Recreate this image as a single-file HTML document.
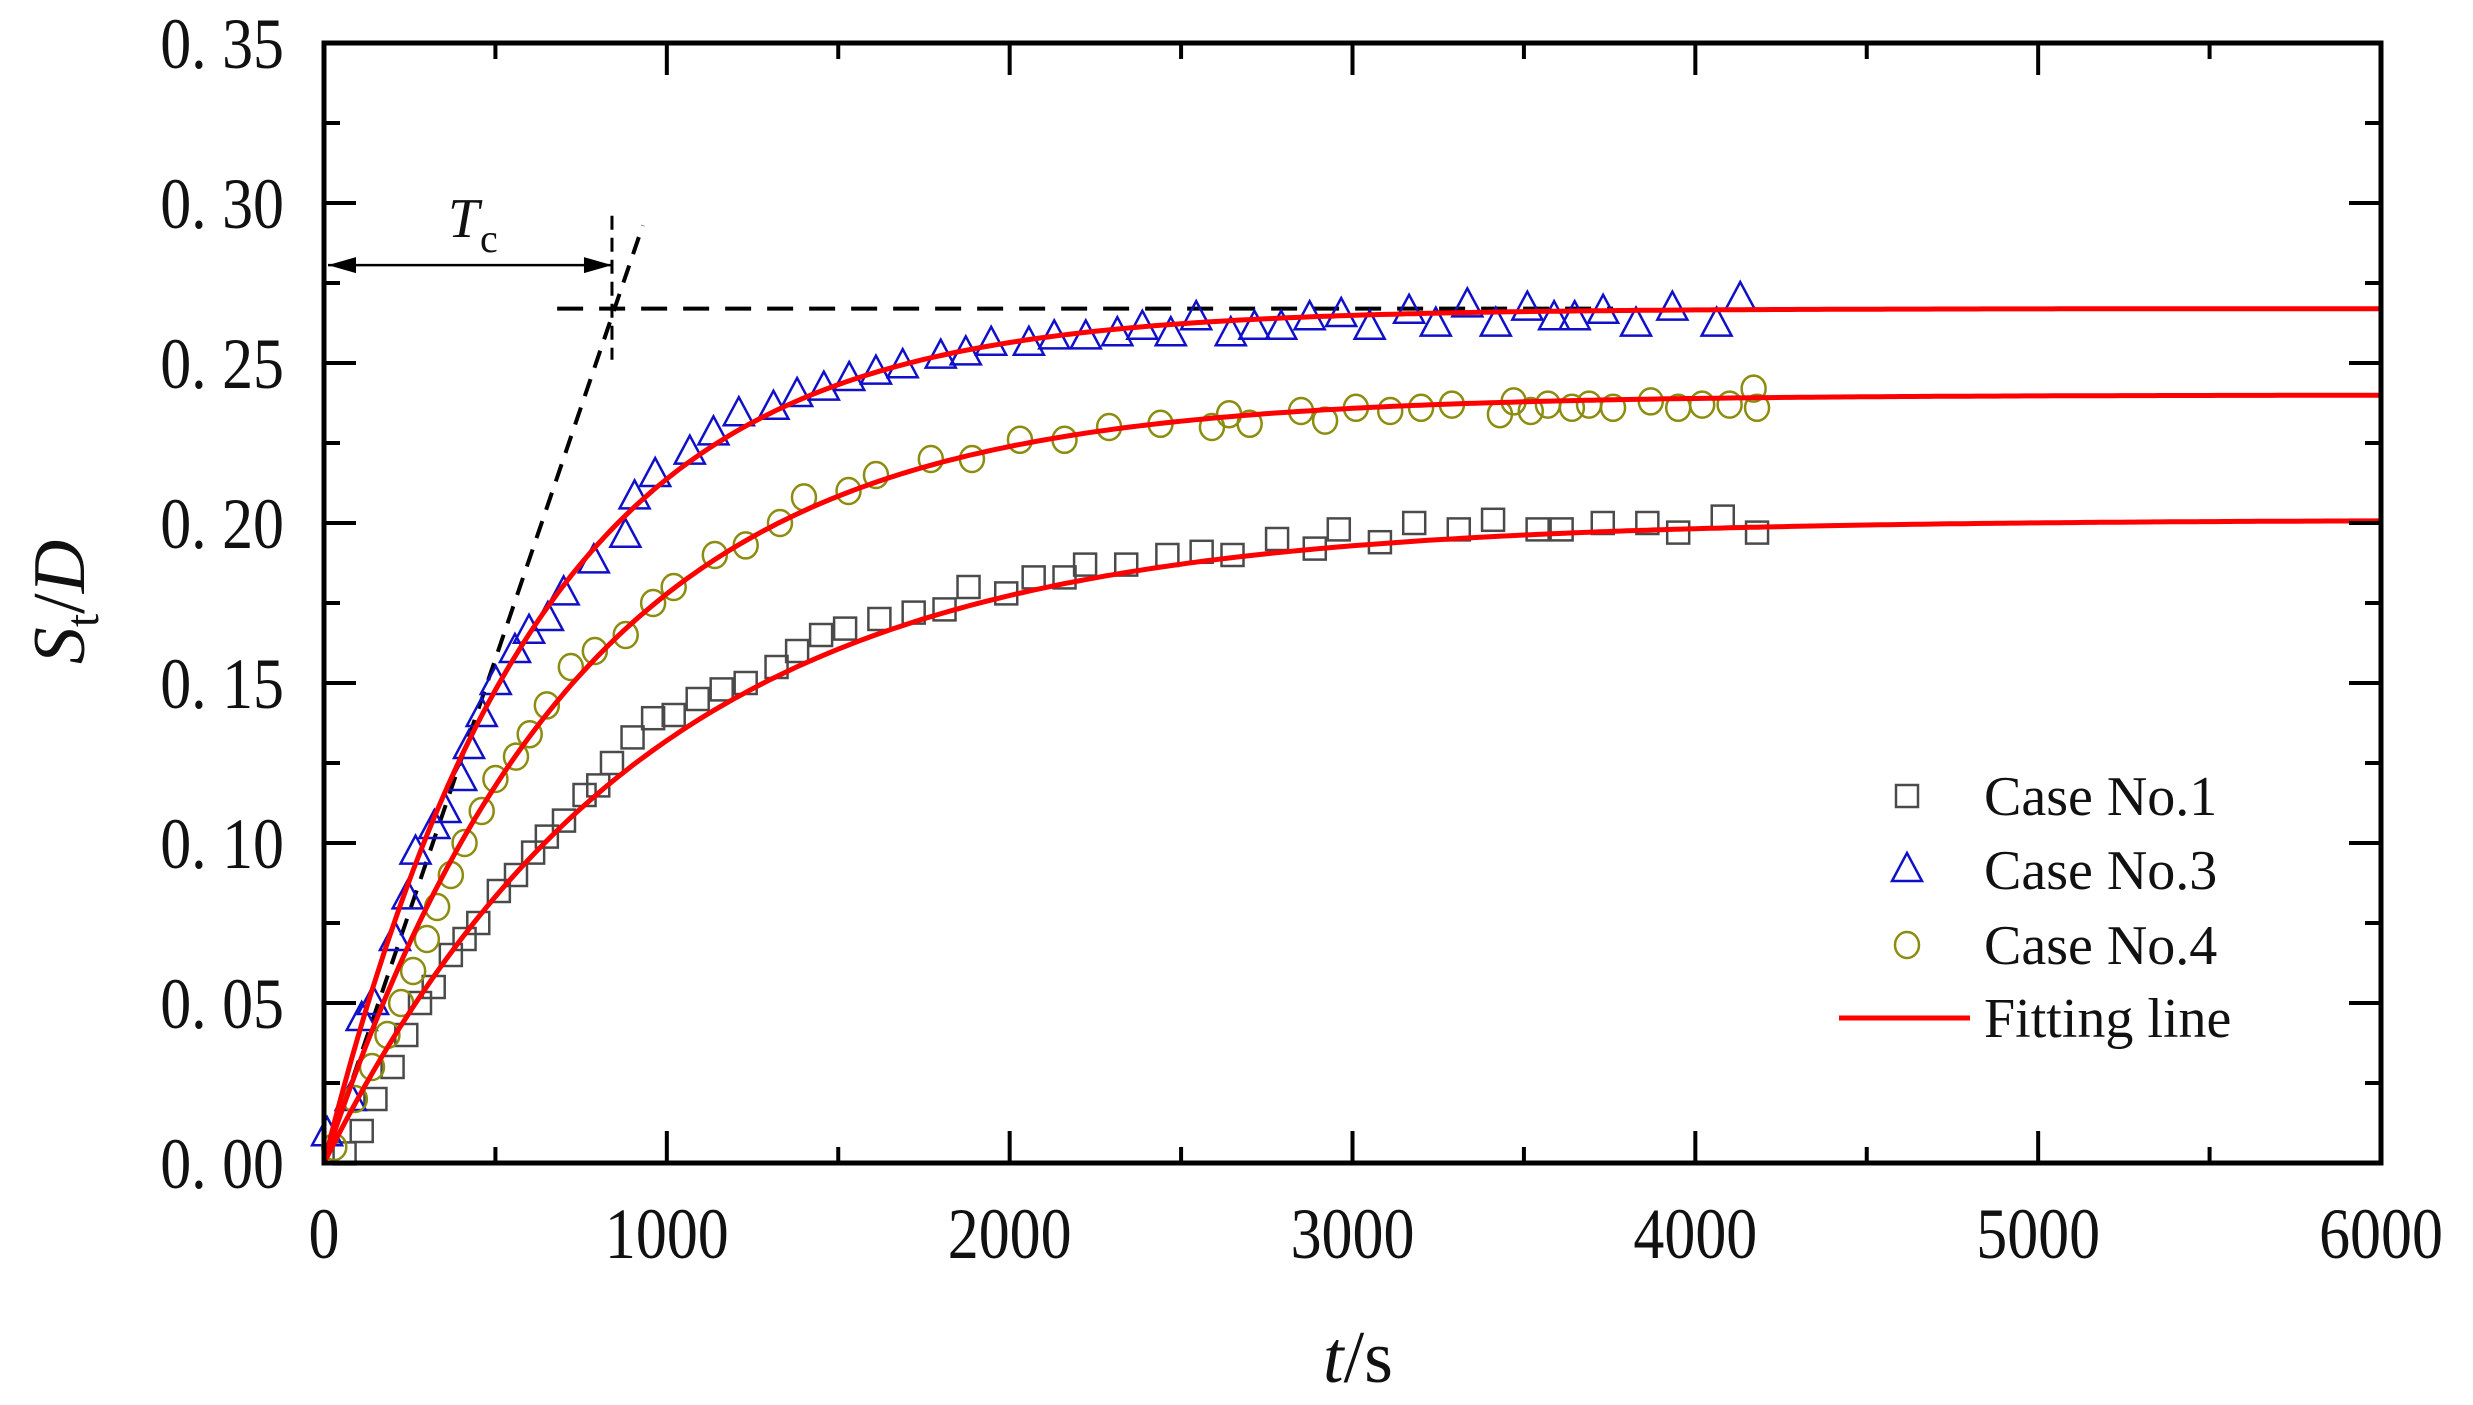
<!DOCTYPE html>
<html><head><meta charset="utf-8"><style>
html,body{margin:0;padding:0;background:#fff;}
svg{display:block;}
text{font-family:"Liberation Serif",serif;fill:#111;}
</style></head><body>
<svg id="chart" width="2473" height="1405" viewBox="0 0 2473 1405" xmlns="http://www.w3.org/2000/svg">
<g id="plot"></g>
<g id="axes"></g>
<g id="legend"></g>
</svg>
<script>
const xTicks=[0,1000,2000,3000,4000,5000,6000];
const yTicks=[0,0.05,0.10,0.15,0.20,0.25,0.30,0.35];
const yTickLabels=["0. 00","0. 05","0. 10","0. 15","0. 20","0. 25","0. 30","0. 35"];
const case1T=[60,110,150,200,240,280,320,370,410,450,510,560,610,650,700,760,800,840,900,960,1020,1090,1160,1230,1320,1380,1450,1520,1620,1720,1810,1880,1990,2070,2160,2220,2340,2460,2560,2650,2780,2890,2960,3080,3180,3310,3410,3540,3610,3730,3860,3950,4080,4180];
const case1V=[0.003,0.01,0.02,0.03,0.04,0.05,0.055,0.065,0.07,0.075,0.085,0.09,0.097,0.102,0.107,0.115,0.118,0.125,0.133,0.139,0.14,0.145,0.148,0.15,0.155,0.16,0.165,0.167,0.17,0.172,0.173,0.18,0.178,0.183,0.183,0.187,0.187,0.19,0.191,0.19,0.195,0.192,0.198,0.194,0.2,0.198,0.201,0.198,0.198,0.2,0.2,0.197,0.202,0.197];
const case3T=[9,78,110,143,207,244,267,322,354,400,423,460,501,557,598,653,699,787,879,906,966,1067,1136,1210,1311,1380,1458,1532,1610,1688,1799,1872,1946,2056,2130,2222,2314,2387,2470,2544,2645,2714,2792,2875,2967,3050,3165,3243,3335,3418,3510,3588,3648,3731,3827,3933,4062,4131];
const case3V=[0.009,0.02,0.045,0.05,0.07,0.083,0.097,0.105,0.11,0.12,0.13,0.14,0.15,0.16,0.166,0.17,0.178,0.188,0.196,0.208,0.215,0.222,0.228,0.234,0.236,0.24,0.242,0.245,0.247,0.249,0.252,0.253,0.256,0.256,0.258,0.258,0.259,0.261,0.259,0.264,0.259,0.261,0.261,0.264,0.265,0.261,0.266,0.262,0.268,0.262,0.267,0.264,0.264,0.266,0.262,0.267,0.262,0.27];
const case4T=[30,90,140,185,225,260,300,330,370,410,460,500,560,600,650,720,790,880,960,1020,1140,1230,1330,1400,1530,1610,1770,1890,2030,2160,2290,2440,2590,2640,2700,2850,2920,3010,3110,3200,3290,3430,3470,3520,3570,3640,3690,3760,3870,3950,4020,4100,4170,4180];
const case4V=[0.005,0.02,0.03,0.04,0.05,0.06,0.07,0.08,0.09,0.10,0.11,0.12,0.127,0.134,0.143,0.155,0.16,0.165,0.175,0.18,0.19,0.193,0.2,0.208,0.21,0.215,0.22,0.22,0.226,0.226,0.23,0.231,0.23,0.234,0.231,0.235,0.232,0.236,0.235,0.236,0.237,0.234,0.238,0.235,0.237,0.236,0.237,0.236,0.238,0.236,0.237,0.237,0.242,0.236];
const fitNames=["fit-case1","fit-case3","fit-case4"];
const fitAmp=[0.201,0.267,0.240];
const fitTau=[935,620,740];
const tangentEnd=[930,0.293];
const plateau=[0.267];
const tcTime=[840];

const X0=324,X1=2381,Y0=1163,Y1=43;
const sx=t=>X0+(t-0)/6000*(X1-X0);
const sy=v=>Y0-(v/0.35)*(Y0-Y1);
const NS="http://www.w3.org/2000/svg";
function mk(tag,attrs,parent){const e=document.createElementNS(NS,tag);for(const k in attrs)e.setAttribute(k,attrs[k]);parent.appendChild(e);return e;}
const plot=document.getElementById('plot'),axes=document.getElementById('axes'),legend=document.getElementById('legend');

let l=mk('line',{x1:sx(0),y1:sy(0),x2:sx(tangentEnd[0]),y2:sy(tangentEnd[1]),stroke:'#000','stroke-width':4,'stroke-dasharray':'18,12'},plot);


l=mk('line',{x1:sx(680),y1:sy(plateau[0]),x2:sx(3760),y2:sy(plateau[0]),stroke:'#000','stroke-width':4,'stroke-dasharray':'26,16'},plot);


l=mk('line',{x1:sx(tcTime[0]),y1:sy(0.296),x2:sx(tcTime[0]),y2:sy(0.251),stroke:'#000','stroke-width':3,'stroke-dasharray':'14,8'},plot);


const ay=sy(0.2806);
l=mk('line',{x1:X0+4,y1:ay,x2:sx(tcTime[0]),y2:ay,stroke:'#000','stroke-width':2.5},plot);


mk('polygon',{points:`${X0+4},${ay} ${X0+32},${ay-8} ${X0+32},${ay+8}`,fill:'#000'},plot);
const ax2=sx(tcTime[0]);
mk('polygon',{points:`${ax2},${ay} ${ax2-28},${ay-8} ${ax2-28},${ay+8}`,fill:'#000'},plot);
let t=mk('text',{x:448,y:237,'font-size':56,'font-style':'italic'},plot);t.textContent='T';


let ts=mk('text',{x:480,y:252,'font-size':40},plot);ts.textContent='c';

const colSq='#4a4a4a',colTri='#1010c8',colCi='#8c8c10';
function square(x,y,g){mk('rect',{x:x-11,y:y-11,width:22,height:22,fill:'none',stroke:colSq,'stroke-width':2.5},g);}
function tri(x,y,g){mk('polygon',{points:`${x},${y-17} ${x-15},${y+11} ${x+15},${y+11}`,fill:'none',stroke:colTri,'stroke-width':2.5},g);}
function circ(x,y,g){mk('ellipse',{cx:x,cy:y,rx:12,ry:13,fill:'none',stroke:colCi,'stroke-width':2.5},g);}
const g1=mk('g',{},plot);


case1T.forEach((tt,i)=>square(sx(tt),sy(case1V[i]),g1));
const g3=mk('g',{},plot);


case3T.forEach((tt,i)=>tri(sx(tt),sy(case3V[i]),g3));
const g4=mk('g',{},plot);


case4T.forEach((tt,i)=>circ(sx(tt),sy(case4V[i]),g4));

fitAmp.forEach((A,k)=>{let d='';for(let s=0;s<=6000;s+=20){const v=A*(1-Math.exp(-s/fitTau[k]));d+=(s?'L':'M')+sx(s).toFixed(1)+','+sy(v).toFixed(1);}
const p=mk('path',{d:d,fill:'none',stroke:'#ff0000','stroke-width':5},plot);

});

const fr=mk('rect',{x:X0,y:Y1,width:X1-X0,height:Y0-Y1,fill:'none',stroke:'#000','stroke-width':5},axes);


xTicks.forEach((v,i)=>{const x=sx(v);
mk('line',{x1:x,y1:Y0,x2:x,y2:Y0-32,stroke:'#000','stroke-width':4},axes);
mk('line',{x1:x,y1:Y1,x2:x,y2:Y1+32,stroke:'#000','stroke-width':4},axes);
if(i<xTicks.length-1){const xm=sx(v+500);
mk('line',{x1:xm,y1:Y0,x2:xm,y2:Y0-16,stroke:'#000','stroke-width':4},axes);
mk('line',{x1:xm,y1:Y1,x2:xm,y2:Y1+16,stroke:'#000','stroke-width':4},axes);}
const tx=mk('text',{x:0,y:0,'font-size':72,'text-anchor':'middle',transform:`translate(${x},1258) scale(0.86,1)`},axes);tx.textContent=String(v);

});
yTicks.forEach((v,i)=>{const y=sy(v);
mk('line',{x1:X0,y1:y,x2:X0+32,y2:y,stroke:'#000','stroke-width':4},axes);
mk('line',{x1:X1,y1:y,x2:X1-32,y2:y,stroke:'#000','stroke-width':4},axes);
if(i<yTicks.length-1){const ym=sy(v+0.025);
mk('line',{x1:X0,y1:ym,x2:X0+16,y2:ym,stroke:'#000','stroke-width':4},axes);
mk('line',{x1:X1,y1:ym,x2:X1-16,y2:ym,stroke:'#000','stroke-width':4},axes);}
const tx=mk('text',{x:0,y:0,'font-size':72,'text-anchor':'end',transform:`translate(284,${y+25}) scale(0.86,1)`},axes);tx.textContent=yTickLabels[i];

});
let xt=mk('text',{x:1358,y:1382,'font-size':74,'text-anchor':'middle'},axes);
xt.innerHTML='<tspan font-style="italic">t</tspan>/s';


let yt=mk('text',{x:0,y:0,'font-size':74,'text-anchor':'middle',transform:'translate(84,602) rotate(-90)'},axes);
yt.innerHTML='<tspan font-style="italic">S</tspan><tspan font-size="48" dy="14">t</tspan><tspan dy="-14">/</tspan><tspan font-style="italic">D</tspan>';



const rows=[796,870,945,1018],labs=['Case No.1','Case No.3','Case No.4','Fitting line'],lnames=['legend-case1','legend-case3','legend-case4','legend-fitting-line'];
rows.forEach((y,i)=>{const g=mk('g',{},legend);


if(i==0)square(1907,y,g);else if(i==1)tri(1907,y,g);else if(i==2)circ(1907,y,g);
else mk('line',{x1:1839,y1:y,x2:1970,y2:y,stroke:'#ff0000','stroke-width':5},g);
const tx=mk('text',{x:1984,y:y+19,'font-size':56},g);tx.textContent=labs[i];});
</script>
</body></html>
